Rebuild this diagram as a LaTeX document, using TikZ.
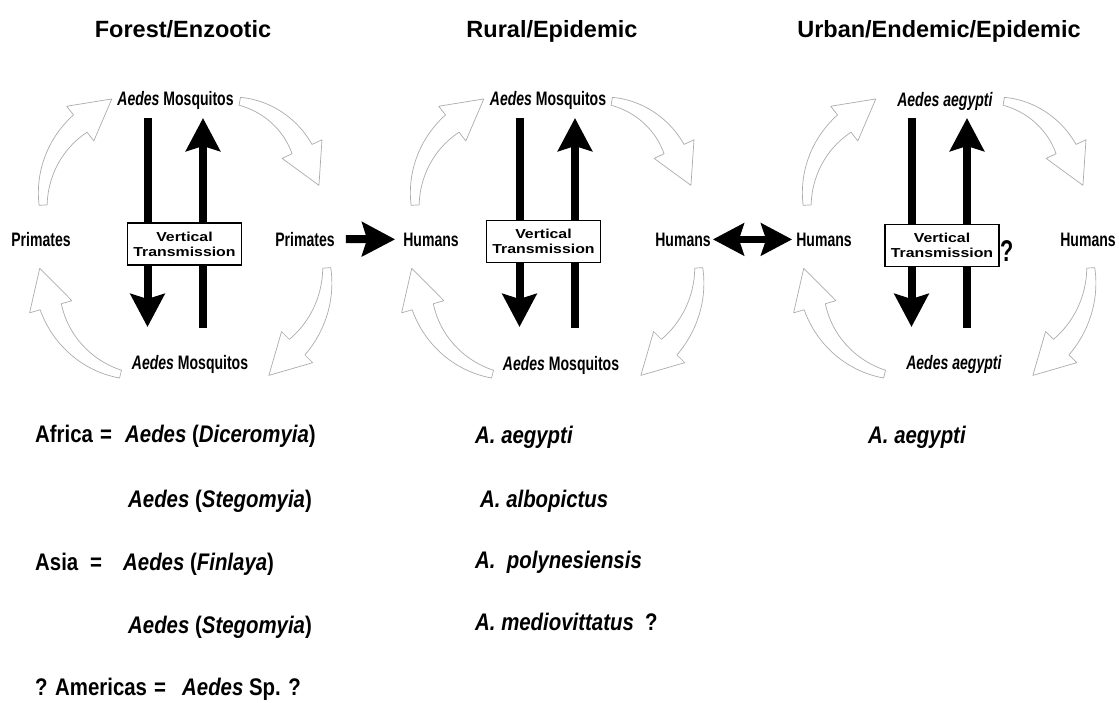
\documentclass[tikz,border=0pt]{standalone}
\usepackage{fontspec}
\setmainfont{Liberation Sans}
\newfontfamily\condfont[FakeStretch=0.72]{Liberation Sans}
\newfontfamily\listfont[FakeStretch=0.85]{Liberation Sans}
\newfontfamily\widefont[FakeStretch=1.22]{Liberation Sans}
\usetikzlibrary{arrows.meta,calc}

\tikzset{
  title/.style={font=\fontsize{23.5}{28}\selectfont\bfseries, anchor=base, inner sep=0pt},
  lbl/.style={font=\condfont\fontsize{19.5}{22}\selectfont\bfseries, anchor=base, inner sep=0pt},
  vtbox/.style={draw, line width=1.3pt, fill=white, minimum width=114pt, minimum height=42pt,
    inner sep=0pt, align=center, font=\widefont\fontsize{13}{15}\selectfont\bfseries},
  listtxt/.style={font=\listfont\fontsize{24}{28}\selectfont\bfseries, anchor=base west, inner sep=0pt},
  bigarrow/.style={line width=8pt, -{Stealth[length=33pt,width=34pt,inset=5pt]}},
  duoarrow/.style={line width=7pt, {Stealth[length=31pt,width=32pt,inset=5pt]}-{Stealth[length=31pt,width=32pt,inset=5pt]}},
  curvarrow/.style={draw=gray!65, line width=0.7pt, fill=white, line join=round},
}

% open curved block arrow running clockwise along a circle:
% #1,#2 centre, #3 radius, #4 start angle (tail), #5 end angle (head)
\newcommand\curvedarr[5]{%
  \path[curvarrow]
    plot[domain=#4:#5, samples=30]
      ({#1+(#3+4+7*(\x-#4)/(#5-#4))*cos(\x)}, {#2+(#3+4+7*(\x-#4)/(#5-#4))*sin(\x)})
    -- ({#1+(#3+22)*cos(#5)}, {#2+(#3+22)*sin(#5)})
    -- ({#1+#3*cos(#5)-40*sin(#5)}, {#2+#3*sin(#5)+40*cos(#5)})
    -- ({#1+(#3-22)*cos(#5)}, {#2+(#3-22)*sin(#5)})
    -- plot[domain=#5:#4, samples=30]
      ({#1+(#3-4-7*(\x-#4)/(#5-#4))*cos(\x)}, {#2+(#3-4-7*(\x-#4)/(#5-#4))*sin(\x)})
    -- cycle;
}

% the four cycle arrows and the two vertical transmission arrows of one panel
\newcommand\transcycle[1]{%
  \curvedarr{140}{200}{97}{177}{232}
  \curvedarr{225}{185}{85}{280}{335}
  \curvedarr{225}{275}{102}{356}{405}
  \curvedarr{144}{280}{97}{104}{164}
  \coordinate (#1-dtop) at (147.5,118);
  \coordinate (#1-dbot) at (147.5,327);
  \coordinate (#1-ubot) at (203,328);
  \coordinate (#1-utop) at (203,118);
  \draw[bigarrow] (#1-dtop) -- (#1-dbot);
  \draw[bigarrow] (#1-ubot) -- (#1-utop);
}

\begin{document}
\begin{tikzpicture}[x=1pt, y=-1pt]
\fill[white] (0,0) rectangle (1119,702);
\useasboundingbox (0,0) rectangle (1119,702);

% titles
\node[title] (t1) at (183,37) {Forest/Enzootic};
\node[title] (t2) at (552,37) {Rural/Epidemic};
\node[title] (t3) at (939,37) {Urban/Endemic/Epidemic};

% forest cycle
\begin{scope}
  \transcycle{p1}
  \node[vtbox] (p1V) at (184.5,244) {Vertical\\Transmission};
  \node[lbl] (p1T) at (175.5,105) {\textit{Aedes} Mosquitos};
  \node[lbl] (p1B) at (190,369) {\textit{Aedes} Mosquitos};
  \node[lbl] (p1L) at (41,246) {Primates};
  \node[lbl] (p1R) at (305,246) {Primates};
\end{scope}

% rural cycle
\begin{scope}[xshift=372pt]
  \transcycle{p2}
  \node[vtbox] (p2V) at (171.5,241.5) {Vertical\\Transmission};
  \node[lbl] (p2T) at (176,105) {\textit{Aedes} Mosquitos};
  \node[lbl] (p2B) at (189,370) {\textit{Aedes} Mosquitos};
  \node[lbl] (p2L) at (59,246) {Humans};
  \node[lbl] (p2R) at (311,246) {Humans};
\end{scope}

% urban cycle
\begin{scope}[xshift=764pt]
  \transcycle{p3}
  \node[vtbox] (p3V) at (178,245.5) {Vertical\\Transmission};
  \node[font=\condfont\fontsize{30}{32}\selectfont\bfseries, anchor=base west, inner sep=0pt] (p3Q) at (236,261) {?};
  \node[lbl] (p3T) at (181,106) {\textit{Aedes aegypti}};
  \node[lbl] (p3B) at (190,369) {\textit{Aedes aegypti}};
  \node[lbl] (p3L) at (60,246) {Humans};
  \node[lbl] (p3R) at (324,246) {Humans};
\end{scope}

% links between the cycles
\draw[bigarrow, shorten <=11pt, shorten >=8pt] (p1R.east) -- (p2L.west);
\draw[duoarrow, shorten <=2pt, shorten >=4pt] (p2R.east) -- (p3L.west);

% vectors: forest
\node[listtxt] (af) at (35,442) {Africa};
\node[listtxt] (afeq) at (100,442) {=};
\node[listtxt] (af1) at (125,442) {\textit{Aedes} (\textit{Diceromyia})};
\node[listtxt] (af2) at (128,507) {\textit{Aedes} (\textit{Stegomyia})};
\node[listtxt] (as) at (35,570) {Asia};
\node[listtxt] (aseq) at (90,570) {=};
\node[listtxt] (as1) at (123,570) {\textit{Aedes} (\textit{Finlaya})};
\node[listtxt] (as2) at (128,633) {\textit{Aedes} (\textit{Stegomyia})};
\node[listtxt] (am) at (35,695) {? Americas};
\node[listtxt] (ameq) at (154,695) {=};
\node[listtxt] (am1) at (182,695) {\textit{Aedes} Sp. ?};

% vectors: rural
\node[listtxt] (r1) at (475,443) {\textit{A. aegypti}};
\node[listtxt] (r2) at (480,507) {\textit{A. albopictus}};
\node[listtxt] (r3) at (475,568) {\textit{A.\ \ polynesiensis}};
\node[listtxt] (r4) at (475,630) {\textit{A. mediovittatus}};
\node[listtxt] (r4q) at (645,630) {?};

% vectors: urban
\node[listtxt] (u1) at (868,443) {\textit{A. aegypti}};
\end{tikzpicture}
\end{document}
